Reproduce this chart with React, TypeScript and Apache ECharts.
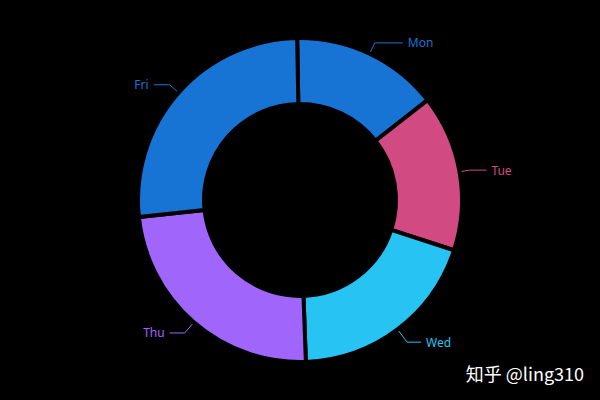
import React, { useEffect, useRef } from 'react'
import * as echarts from 'echarts'

const days = ['Mon', 'Tue', 'Wed', 'Thu', 'Fri']
const values = [147, 156, 194, 239, 264]
const colors = ['#1773d4', '#d14b82', '#27c3f3', '#a066fb', '#1773d4']

// per-slice label line lengths [length, length2]
const lineLengths: [number, number][] = [
  [12, 28],
  [10, 17],
  [16, 14],
  [14, 15],
  [12, 16],
]

const App = () => {
  const chartRef = useRef<HTMLDivElement | null>(null)

  useEffect(() => {
    if (!chartRef.current) return
    const chart = echarts.init(chartRef.current, null, { renderer: 'svg' })

    chart.setOption({
      animation: false,
      backgroundColor: '#000',
      graphic: [
        {
          type: 'text',
          right: 16,
          bottom: 18,
          style: {
            text: '知乎 @ling310',
            fill: '#fff',
            font: '18px "Noto Sans CJK SC", sans-serif',
          },
        },
      ],
      series: [
        {
          type: 'pie',
          center: ['50%', '50%'],
          radius: ['48%', '81%'],
          startAngle: 91,
          itemStyle: { borderColor: '#000', borderWidth: 4 },
          label: {
            show: true,
            position: 'outside',
            fontSize: 12,
            fontFamily: '"Noto Sans", sans-serif',
          },
          labelLine: { show: true, lineStyle: { width: 1 } },
          data: days.map((d, i) => ({
            name: d,
            value: values[i],
            itemStyle: { color: colors[i] },
            label: { color: colors[i] },
            labelLine: { length: lineLengths[i][0], length2: lineLengths[i][1] },
          })),
        },
      ],
    })

    return () => chart.dispose()
  }, [])

  return (
    <div
      ref={chartRef}
      style={{ position: 'absolute', left: 0, top: 0, width: 600, height: 400 }}
    />
  )
}

export default App
